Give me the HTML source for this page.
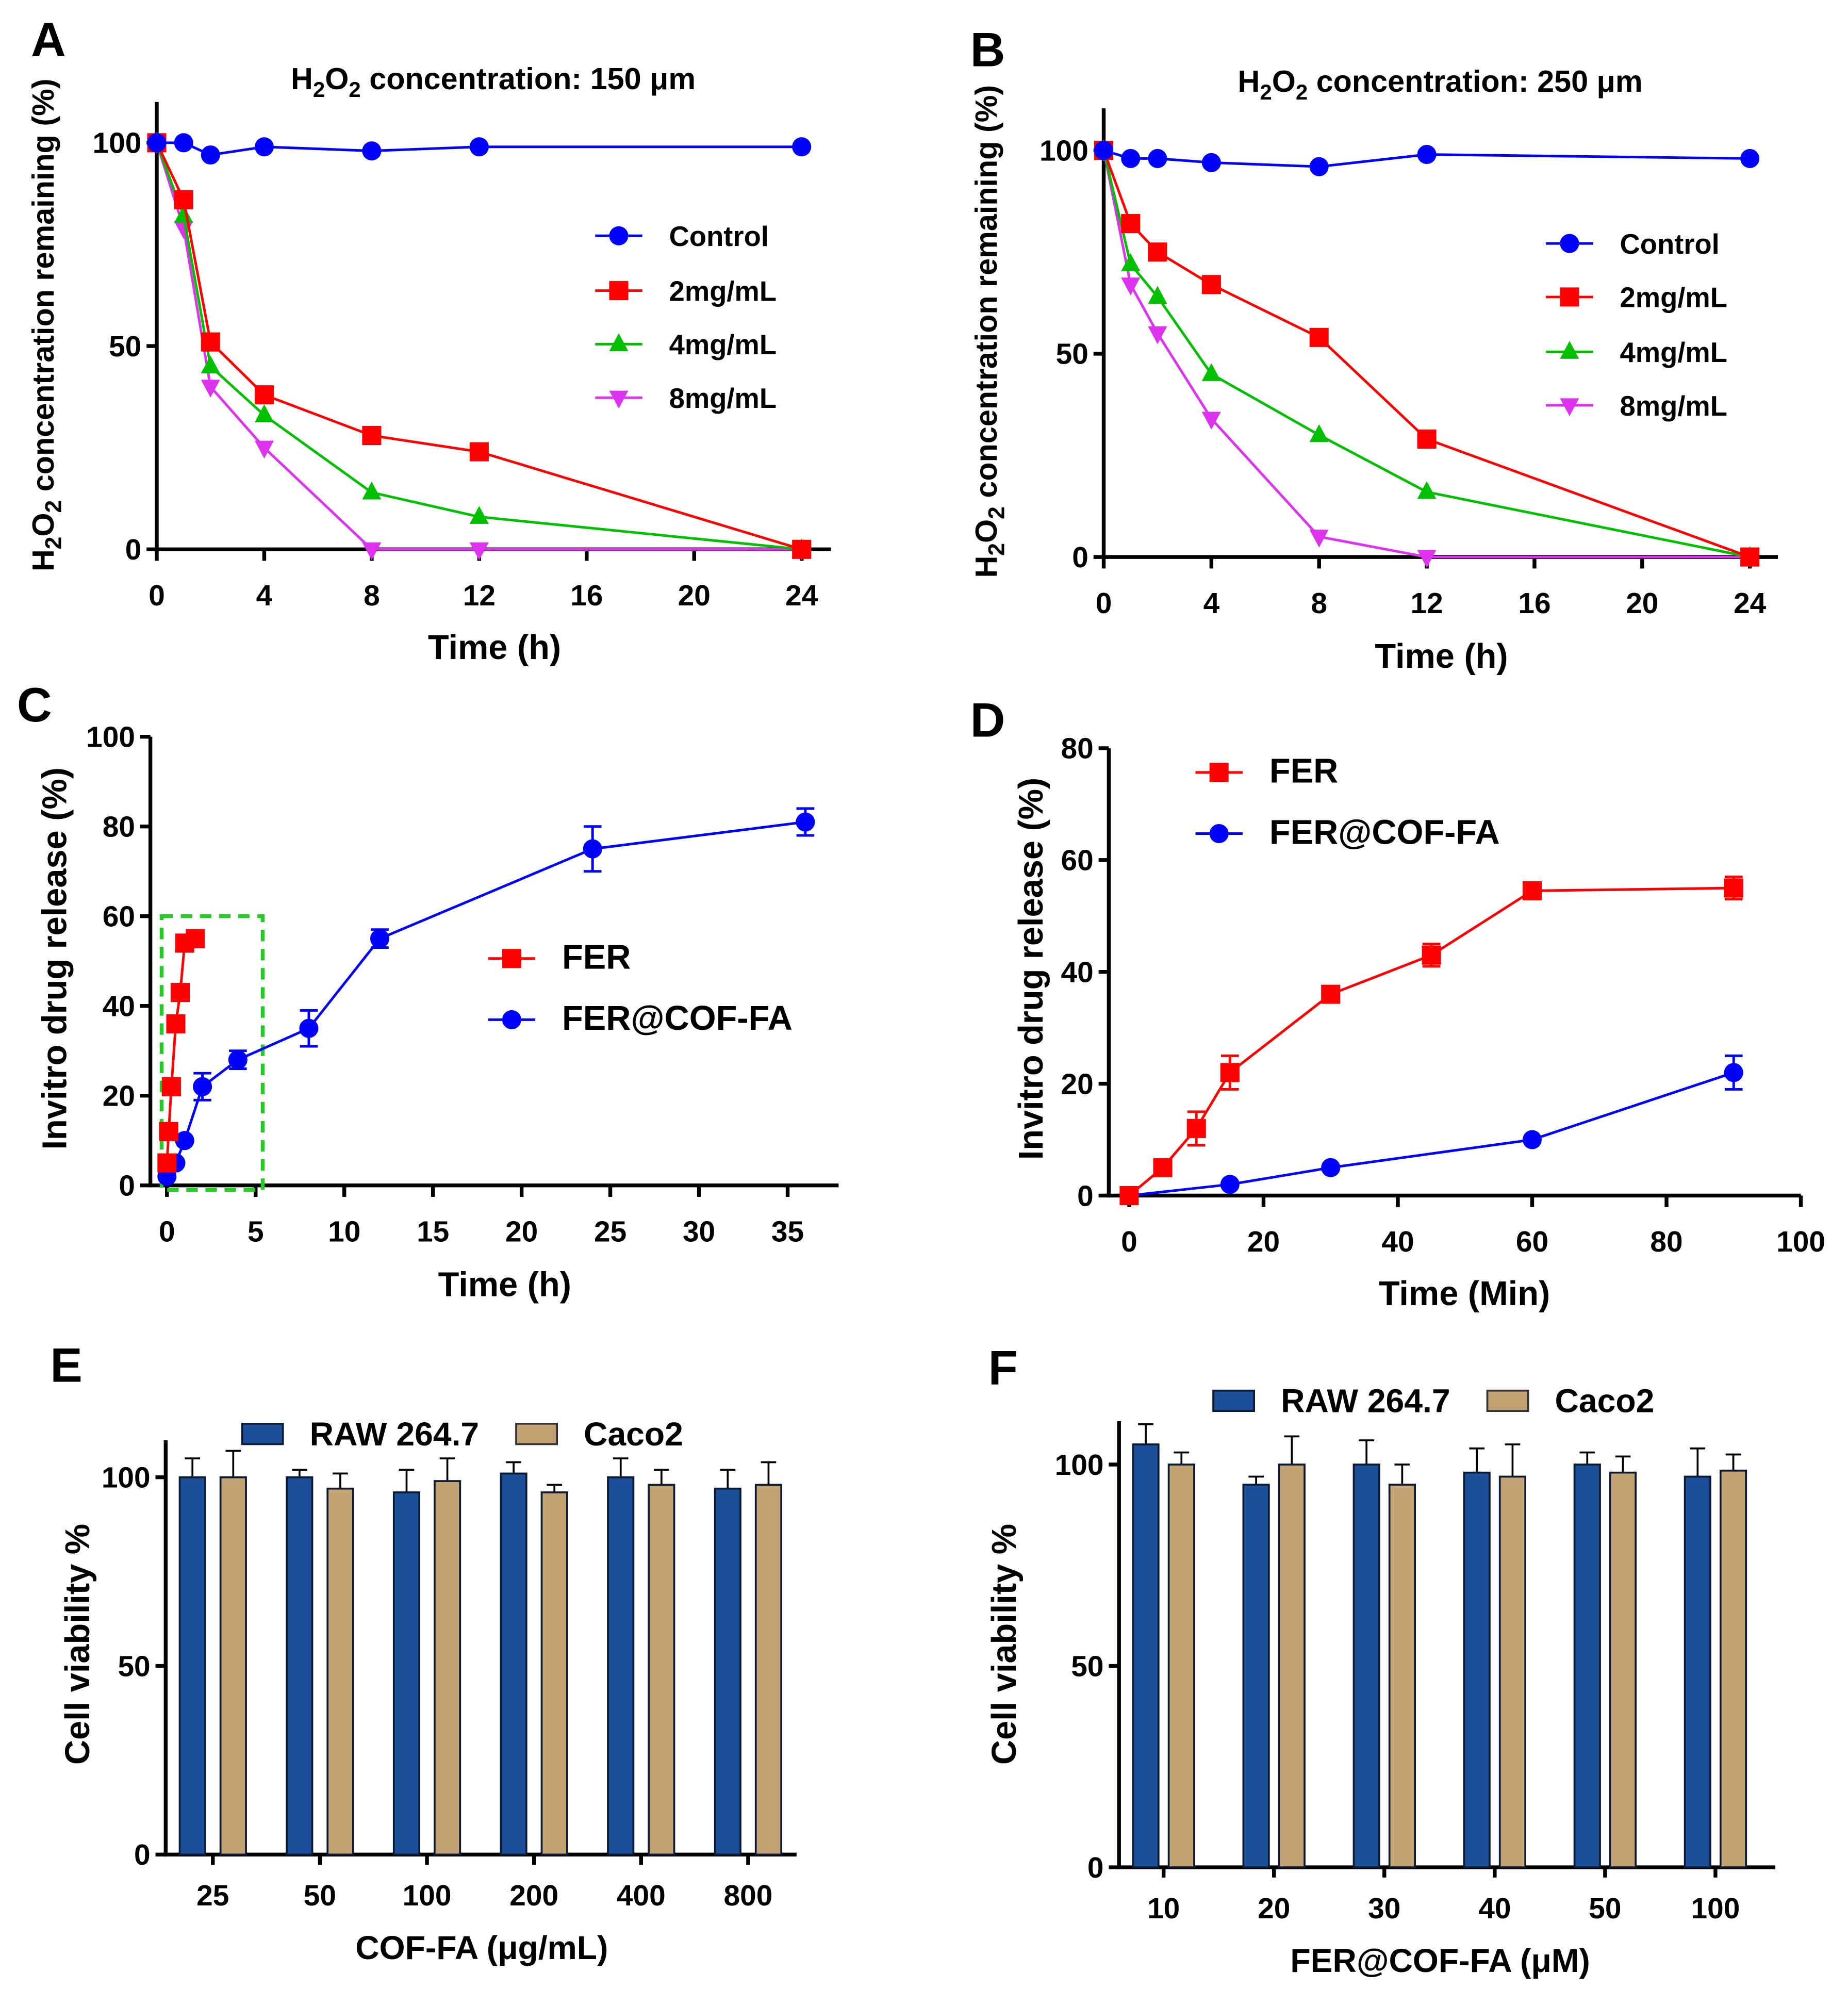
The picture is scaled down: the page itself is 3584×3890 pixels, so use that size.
<!DOCTYPE html>
<html><head><meta charset="utf-8"><style>
html,body{margin:0;padding:0;background:#fff;}
svg{display:block;font-family:"Liberation Sans",Arial,sans-serif;font-weight:bold;}
</style></head><body>
<svg id="fig" width="3584" height="3890" viewBox="0 0 1450 1573.8" xmlns="http://www.w3.org/2000/svg"></svg>
<script>
// ---- data ----
const timeA = [0,1,2,4,8,12,24];
const aControl = [100,100,97,99,98,99,99];
const a2mg = [100,86,51,38,28,24,0];
const a4mg = [100,82,45,33,14,8,0];
const a8mg = [100,79,40,25,0,0,0];
const timeB = [0,1,2,4,8,12,24];
const bControl = [100,98,98,97,96,99,98];
const b2mg = [100,82,75,67,54,29,0];
const b4mg = [100,72,64,45,30,16,0];
const b8mg = [100,67,55,34,5,0,0];
const timeAticks = [0,4,8,12,16,20,24];
const yTicksA = [0,50,100];
const cFerT = [0,0.1,0.25,0.5,0.75,1,1.6];
const cFerV = [5,12,22,36,43,54,55];
const cCofT = [0,0.5,1,2,4,8,12,24,36];
const cCofV = [2,5,10,22,28,35,55,75,81];
const cCofE = [0,0,0,3,2,4,2,5,3];
const cXticks = [0,5,10,15,20,25,30,35];
const cYticks = [0,20,40,60,80,100];
const dFerT = [0,5,10,15,30,45,60,90];
const dFerV = [0,5,12,22,36,43,54.5,55];
const dFerE = [0,0,3,3,0,2,0,2];
const dCofT = [0,15,30,60,90];
const dCofV = [0,2,5,10,22];
const dCofE = [0,0,0,0,3];
const dXticks = [0,20,40,60,80,100];
const dYticks = [0,20,40,60,80];
const eCats = ['25','50','100','200','400','800'];
const eRaw = [100,100,96,101,100,97];
const eRawErr = [5,2,6,3,5,5];
const eCaco = [100,97,99,96,98,98];
const eCacoErr = [7,4,6,2,4,6];
const fCats = ['10','20','30','40','50','100'];
const fRaw = [105,95,100,98,100,97];
const fRawErr = [5,2,6,6,3,7];
const fCaco = [100,100,95,97,98,98.5];
const fCacoErr = [3,7,5,8,4,4];
const barYticks = [0,50,100];

const NS='http://www.w3.org/2000/svg';
const svg=document.getElementById('fig');
function mk(tag,attrs,name,parent){
  const el=document.createElementNS(NS,tag);
  for(const k in attrs) el.setAttribute(k,attrs[k]);
  
  
  (parent||svg).appendChild(el);
  return el;
}
function txt(x,y,s,size,name,anchor,rot){
  const t=mk('text',{x:x,y:y,'font-size':size,'text-anchor':anchor||'middle'},name);
  if(rot) t.setAttribute('transform','rotate(-90 '+x+' '+y+')');
  t.textContent=s; return t;
}
function scale(d0,d1,p0,p1){return v=>p0+(v-d0)/(d1-d0)*(p1-p0);}
function marker(g,shape,x,y,col,name){
  const s=7.5;
  if(shape==='circle') mk('circle',{cx:x,cy:y,r:s,fill:col},name,g);
  else if(shape==='square') mk('rect',{x:x-s,y:y-s,width:2*s,height:2*s,fill:col},name,g);
  else if(shape==='up') mk('polygon',{points:`${x},${y-s-1} ${x-s},${y+s-2} ${x+s},${y+s-2}`,fill:col},name,g);
  else mk('polygon',{points:`${x},${y+s+1} ${x-s},${y-s+2} ${x+s},${y-s+2}`,fill:col},name,g);
}
function series(sx,sy,xs,ys,errs,col,shape,name){
  const g=mk('g',{},name+'-series');
  let pts=xs.map((t,i)=>sx(t)+','+sy(ys[i])).join(' ');
  mk('polyline',{points:pts,fill:'none',stroke:col,'stroke-width':2},name+'-line',g);
  xs.forEach((t,i)=>{
    if(errs&&errs[i]>0){
      const x=sx(t);
      mk('line',{x1:x,x2:x,y1:sy(ys[i]-errs[i]),y2:sy(ys[i]+errs[i]),stroke:col,'stroke-width':2},name+'-error-bar',g);
      mk('line',{x1:x-7,x2:x+7,y1:sy(ys[i]+errs[i]),y2:sy(ys[i]+errs[i]),stroke:col,'stroke-width':2},name+'-error-cap',g);
      mk('line',{x1:x-7,x2:x+7,y1:sy(ys[i]-errs[i]),y2:sy(ys[i]-errs[i]),stroke:col,'stroke-width':2},name+'-error-cap',g);
    }
    marker(g,shape,sx(t),sy(ys[i]),col,name+'-point');
  });
}
function axes(p,sx,sy,xt,yt,xlab){
  mk('line',{x1:p.ax,x2:p.ax,y1:p.top,y2:p.bot+1.5,stroke:'#000','stroke-width':3},'y-axis');
  mk('line',{x1:p.ax-1.5,x2:p.right,y1:p.bot,y2:p.bot,stroke:'#000','stroke-width':3},'x-axis');
  yt.forEach(v=>{mk('line',{x1:p.ax-8,x2:p.ax,y1:sy(v),y2:sy(v),stroke:'#000','stroke-width':3},'y-tick');
    txt(p.ax-12,sy(v)+8,String(v),23,'y-tick-label','end');});
  if(xt) xt.forEach(v=>{mk('line',{x1:sx(v),x2:sx(v),y1:p.bot,y2:p.bot+9,stroke:'#000','stroke-width':3},'x-tick');
    txt(sx(v),p.bot+44,String(v),23,'x-tick-label');});
}
function legendLine(x,y,col,shape,label,size){
  const g=mk('g',{},'legend-entry');
  mk('line',{x1:x,x2:x+37,y1:y,y2:y,stroke:col,'stroke-width':2},'legend-line',g);
  marker(g,shape,x+18.5,y,col,'legend-marker');
  const t=mk('text',{x:x+58,y:y+8,'font-size':size||22},'legend-label',g); t.textContent=label;
}
function h2o2title(x,y,s){
  const t=mk('text',{x:x,y:y,'font-size':24,'text-anchor':'middle'},'panel-title');
  t.innerHTML='H<tspan font-size="17" dy="6">2</tspan><tspan dy="-6">O</tspan><tspan font-size="17" dy="6">2</tspan><tspan dy="-6"> concentration: '+s+'</tspan>';
}
function h2o2ylab(x,y){
  const t=mk('text',{x:x,y:y,'font-size':24,'text-anchor':'middle',transform:`rotate(-90 ${x} ${y})`},'y-axis-title');
  t.innerHTML='H<tspan font-size="18" dy="6">2</tspan><tspan dy="-6">O</tspan><tspan font-size="18" dy="6">2</tspan><tspan dy="-6"> concentration remaining (%)</tspan>';
}
const C={b:'#0000ff',r:'#ff0000',g:'#00c000',m:'#dd33ee'};

// Panel letters
[['A',38,44],['B',775,52],['C',27,566],['D',775,578],['E',52,1084],['F',787,1086]].forEach(a=>txt(a[1],a[2],a[0],38,'panel-label-'+a[0].toLowerCase()));

// ---- A ----
(function(){
  const p={ax:123,top:80,bot:431,right:652};
  const sx=scale(0,24,123,629), sy=scale(0,100,431,112);
  axes(p,sx,sy,timeAticks,yTicksA);
  h2o2title(387,70,'150 μm'); h2o2ylab(42,255);
  txt(388,517,'Time (h)',27,'x-axis-title');
  series(sx,sy,timeA,a8mg,null,C.m,'down','8mg');
  series(sx,sy,timeA,a4mg,null,C.g,'up','4mg');
  series(sx,sy,timeA,a2mg,null,C.r,'square','2mg');
  series(sx,sy,timeA,aControl,null,C.b,'circle','control');
  legendLine(467,185,C.b,'circle','Control');legendLine(467,228,C.r,'square','2mg/mL');
  legendLine(467,270,C.g,'up','4mg/mL');legendLine(467,312,C.m,'down','8mg/mL');
})();
// ---- B ----
(function(){
  const p={ax:866,top:85,bot:437,right:1395};
  const sx=scale(0,24,866,1373), sy=scale(0,100,437,118);
  axes(p,sx,sy,timeAticks,yTicksA);
  h2o2title(1130,72,'250 μm'); h2o2ylab(782,260);
  txt(1131,524,'Time (h)',27,'x-axis-title');
  series(sx,sy,timeB,b8mg,null,C.m,'down','8mg');
  series(sx,sy,timeB,b4mg,null,C.g,'up','4mg');
  series(sx,sy,timeB,b2mg,null,C.r,'square','2mg');
  series(sx,sy,timeB,bControl,null,C.b,'circle','control');
  legendLine(1213,191,C.b,'circle','Control');legendLine(1213,233,C.r,'square','2mg/mL');
  legendLine(1213,276,C.g,'up','4mg/mL');legendLine(1213,318,C.m,'down','8mg/mL');
})();
// ---- C ----
(function(){
  const p={ax:118,top:578,bot:930,right:658};
  const sx=scale(0,35,131,618), sy=scale(0,100,930,578);
  axes(p,sx,sy,cXticks,cYticks);
  txt(52,752,'Invitro drug release (%)',27,'y-axis-title','middle',true);
  txt(396,1017,'Time (h)',27,'x-axis-title');
  mk('rect',{x:sx(-0.3),y:sy(60),width:sx(5.4)-sx(-0.3),height:sy(-1)-sy(60),fill:'none',stroke:'#22cc22','stroke-width':3,'stroke-dasharray':'9,6'},'zoom-box');
  series(sx,sy,cCofT,cCofV,cCofE,C.b,'circle','fer-cof-fa');
  series(sx,sy,cFerT,cFerV,null,C.r,'square','fer');
  legendLine(383,752,C.r,'square','FER',27);legendLine(383,800,C.b,'circle','FER@COF-FA',27);
})();
// ---- D ----
(function(){
  const p={ax:870,top:587,bot:938,right:1413};
  const sx=scale(0,100,886,1413), sy=scale(0,80,938,587);
  axes(p,sx,sy,dXticks,dYticks);
  txt(818,760,'Invitro drug release (%)',27,'y-axis-title','middle',true);
  txt(1149,1024,'Time (Min)',27,'x-axis-title');
  series(sx,sy,dCofT,dCofV,dCofE,C.b,'circle','fer-cof-fa');
  series(sx,sy,dFerT,dFerV,dFerE,C.r,'square','fer');
  legendLine(938,606,C.r,'square','FER',27);legendLine(938,654,C.b,'circle','FER@COF-FA',27);
})();
// ---- bar charts ----
function bars(p,cats,v1,e1,v2,e2,xlab,lg){
  const sy=scale(0,100,p.bot,p.y100);
  const cx=i=>p.c0+i*p.sp;
  axes(p,null,sy,null,barYticks);
  cats.forEach((c,i)=>{
    mk('line',{x1:cx(i),x2:cx(i),y1:p.bot,y2:p.bot+8,stroke:'#000','stroke-width':3},'x-tick');
    txt(cx(i),p.bot+40,c,23,'x-tick-label');
    [[v1,e1,-p.off,'#1c4f9a','raw264-bar'],[v2,e2,p.off,'#c3a374','caco2-bar']].forEach(s=>{
      const x=cx(i)+s[2], v=s[0][i], e=s[1][i];
      mk('line',{x1:x,x2:x,y1:sy(v),y2:sy(v+e),stroke:'#000','stroke-width':1.5},s[4]+'-error',svg);
      mk('line',{x1:x-6,x2:x+6,y1:sy(v+e),y2:sy(v+e),stroke:'#000','stroke-width':1.5},s[4]+'-error-cap',svg);
      mk('rect',{x:x-10,y:sy(v),width:20,height:p.bot-sy(v),fill:s[3],stroke:'#0d1a33','stroke-width':1.5},s[4]);
    });
  });
  txt(p.ylx,1290,'Cell viability %',27,'y-axis-title','middle',true);
  txt(p.xtx,p.bot+82,xlab,26,'x-axis-title');
  let g=mk('g',{},'legend-entry');
  mk('rect',{x:lg[0],y:lg[2]-8,width:32,height:16,fill:'#1c4f9a',stroke:'#0d1a33','stroke-width':1.5},'legend-swatch',g);
  let t=mk('text',{x:lg[0]+53,y:lg[2]+9,'font-size':26},'legend-label',g);t.textContent='RAW 264.7';
  g=mk('g',{},'legend-entry');
  mk('rect',{x:lg[1],y:lg[2]-8,width:32,height:16,fill:'#c3a374',stroke:'#333','stroke-width':1.5},'legend-swatch',g);
  t=mk('text',{x:lg[1]+53,y:lg[2]+9,'font-size':26},'legend-label',g);t.textContent='Caco2';
}
bars({ax:130,top:1130,bot:1455,right:625,y100:1159,c0:167,sp:84,off:16,ylx:70,xtx:378},eCats,eRaw,eRawErr,eCaco,eCacoErr,'COF-FA (μg/mL)',[190,405,1125]);
bars({ax:878,top:1115,bot:1465,right:1393,y100:1149,c0:913,sp:86.6,off:14,ylx:797,xtx:1130},fCats,fRaw,fRawErr,fCaco,fCacoErr,'FER@COF-FA (μM)',[952,1167,1099]);
</script>
</body></html>
